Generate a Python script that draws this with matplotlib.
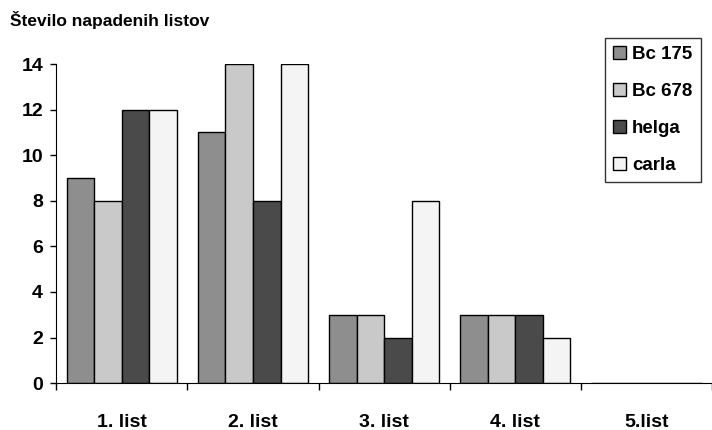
import numpy as np
import matplotlib.pyplot as plt
from matplotlib.ticker import FixedLocator

plt.rcParams['font.family'] = ['Liberation Sans', 'DejaVu Sans']

categories = ['1. list', '2. list', '3. list', '4. list', '5.list']
series = ['Bc 175', 'Bc 678', 'helga', 'carla']
bc175 = [9, 11, 3, 3, 0]
bc678 = [8, 14, 3, 3, 0]
helga = [12, 8, 2, 3, 0]
carla = [12, 14, 8, 2, 0]
colors = ['#8e8e8e', '#c9c9c9', '#4a4a4a', '#f4f4f4']

fig = plt.figure(figsize=(7.12, 4.30), dpi=100)
ax = fig.add_axes([0.079, 0.109, 0.921, 0.742])

x = np.arange(len(categories))
w = 0.21
for i, (name, vals) in enumerate(zip(series, [bc175, bc678, helga, carla])):
    ax.bar(x + (i - 1.5) * w, vals, w, color=colors[i], edgecolor='black',
           linewidth=1.0, label=name)

ax.set_xlim(-0.5, 4.5)
ax.set_ylim(0, 14)
ax.set_yticks(range(0, 15, 2))
ax.set_xticks(x)
ax.set_xticklabels(categories)
ax.xaxis.set_minor_locator(FixedLocator(np.arange(-0.5, 5, 1)))
ax.tick_params(axis='x', which='major', length=0, pad=22, labelsize=14)
ax.tick_params(axis='x', which='minor', length=5, width=1, direction='out')
ax.tick_params(axis='y', length=4.5, width=1, direction='out', labelsize=14, pad=5)
for lab in ax.get_xticklabels() + ax.get_yticklabels():
    lab.set_fontweight('bold')
ax.spines['top'].set_visible(False)
ax.spines['right'].set_visible(False)

fig.text(0.014, 0.953, 'Število napadenih listov', fontsize=12.5,
         fontweight='bold', va='center')

leg = ax.legend(loc='upper right', bbox_to_anchor=(0.984, 0.912),
                bbox_transform=fig.transFigure, fancybox=False,
                edgecolor='black', prop={'size': 13.5, 'weight': 'bold'},
                handlelength=0.7, handleheight=0.7, handletextpad=0.3,
                labelspacing=1.05, borderpad=0.45, borderaxespad=0)
leg.get_frame().set_linewidth(1.0)

fig.savefig('out.png', dpi=100)
